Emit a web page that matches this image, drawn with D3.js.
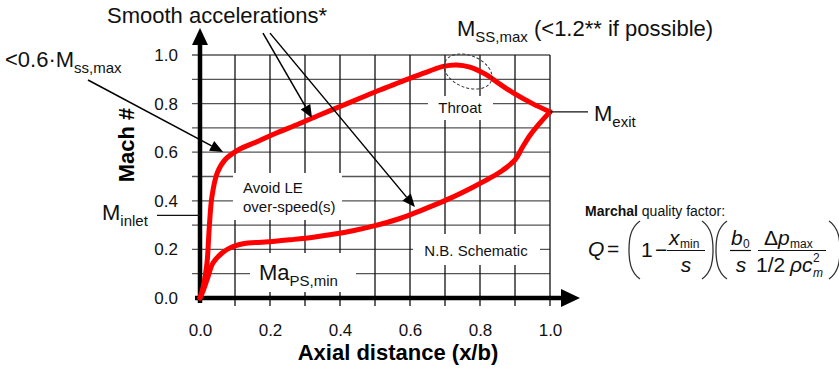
<!DOCTYPE html>
<html>
<head>
<meta charset="utf-8">
<script src="https://cdn.jsdelivr.net/npm/d3@7"></script>
<style>
  body { margin: 0; background: #fff; }
  svg { font-family: "Liberation Sans", Arial, sans-serif; }
</style>
</head>
<body>
<svg id="chart" width="839" height="369"></svg>
<script>
// suction side (upper branch), x/b and Mach
var ssX = [0, 0.009, 0.02, 0.026, 0.034, 0.049, 0.071, 0.109, 0.166, 0.22, 0.28, 0.34, 0.40, 0.46, 0.514, 0.571, 0.61, 0.657, 0.695, 0.733, 0.771, 0.819, 0.857, 0.895, 0.95, 1.0];
var ssY = [0, 0.045, 0.144, 0.28, 0.416, 0.514, 0.568, 0.609, 0.645, 0.68, 0.715, 0.752, 0.788, 0.824, 0.856, 0.888, 0.91, 0.935, 0.953, 0.959, 0.95, 0.918, 0.88, 0.844, 0.80, 0.766];
// pressure side (lower branch)
var psX = [0, 0.009, 0.02, 0.037, 0.063, 0.091, 0.137, 0.186, 0.26, 0.324, 0.38, 0.44, 0.50, 0.56, 0.61, 0.66, 0.714, 0.781, 0.829, 0.866, 0.9, 0.92, 0.943, 0.971, 1.0];
var psY = [0, 0.03, 0.074, 0.144, 0.185, 0.21, 0.226, 0.23, 0.24, 0.25, 0.262, 0.278, 0.298, 0.322, 0.348, 0.377, 0.41, 0.457, 0.494, 0.527, 0.568, 0.617, 0.67, 0.72, 0.766];

var xTicks = [0, 0.2, 0.4, 0.6, 0.8, 1.0];
var yTicks = [0, 0.2, 0.4, 0.6, 0.8, 1.0];
var gridValues = [0.1, 0.2, 0.3, 0.4, 0.5, 0.6, 0.7, 0.8, 0.9, 1.0];
var inletMach = 0.34;
var exitMach = 0.766;

var svg = d3.select('#chart');
var x = d3.scaleLinear().domain([0, 1]).range([200, 550]);
var y = d3.scaleLinear().domain([0, 1]).range([298, 55]);

// Gitter
var grid = svg.append('g');
grid.selectAll('.hl').data(gridValues).enter().append('line')
  .attr('x1', 192).attr('x2', x(1))
  .attr('y1', d => y(d)).attr('y2', d => y(d))
  .attr('stroke', '#555').attr('stroke-width', 1.3);
grid.selectAll('.vl').data(gridValues).enter().append('line')
  .attr('x1', d => x(d)).attr('x2', d => x(d))
  .attr('y1', y(0) + 8).attr('y2', y(1))
  .attr('stroke', '#111').attr('stroke-width', 1.3);

// weisse Kaesten hinter den Beschriftungen
var boxes = [
  [233, 173, 109, 47],
  [250, 253, 106, 39],
  [428, 96, 65, 24],
  [413, 234, 127, 31]
];
svg.selectAll('.box').data(boxes).enter().append('rect')
  .attr('x', d => d[0]).attr('y', d => d[1])
  .attr('width', d => d[2]).attr('height', d => d[3])
  .attr('fill', '#fff');

// Achsen
svg.append('line').attr('x1', x(0)).attr('x2', x(0)).attr('y1', y(0) + 5).attr('y2', 44)
  .attr('stroke', '#000').attr('stroke-width', 4.5);
svg.append('path').attr('d', 'M192,45 L208,45 L200,28 Z').attr('fill', '#000');
svg.append('line').attr('x1', x(0) - 5).attr('x2', 562).attr('y1', y(0)).attr('y2', y(0))
  .attr('stroke', '#000').attr('stroke-width', 4.5);
svg.append('path').attr('d', 'M561,289 L561,307 L580,298 Z').attr('fill', '#000');

var yAxis = svg.append('g').attr('transform', 'translate(' + x(0) + ',0)')
  .call(d3.axisLeft(y).tickValues(yTicks).tickSize(0).tickPadding(22).tickFormat(d3.format('.1f')));
var xAxis = svg.append('g').attr('transform', 'translate(0,' + y(0) + ')')
  .call(d3.axisBottom(x).tickValues(xTicks).tickSize(0).tickPadding(26).tickFormat(d3.format('.1f')));
[yAxis, xAxis].forEach(function(a) {
  a.select('.domain').remove();
  a.selectAll('text').attr('font-size', 17).attr('fill', '#111')
    .attr('font-family', '"Liberation Sans", Arial, sans-serif');
});

svg.append('text').attr('x', 398).attr('y', 360).attr('text-anchor', 'middle')
  .attr('font-size', 22).attr('font-weight', 'bold').text('Axial distance (x/b)');
svg.append('text').attr('transform', 'translate(134,145) rotate(-90)').attr('text-anchor', 'middle')
  .attr('font-size', 22).attr('font-weight', 'bold').text('Mach #');

// Kurven
var line = d3.line().x(d => x(d[0])).y(d => y(d[1])).curve(d3.curveCatmullRom.alpha(0.5));
[[ssX, ssY], [psX, psY]].forEach(function(s) {
  svg.append('path').datum(d3.zip(s[0], s[1])).attr('d', line)
    .attr('fill', 'none').attr('stroke', '#ff0000').attr('stroke-width', 5)
    .attr('stroke-linecap', 'round').attr('stroke-linejoin', 'round');
});

// Throat-Ellipse
svg.append('ellipse').attr('cx', x(0.766)).attr('cy', y(0.932)).attr('rx', 25).attr('ry', 16)
  .attr('transform', 'rotate(22,' + x(0.766) + ',' + y(0.932) + ')')
  .attr('fill', 'none').attr('stroke', '#333').attr('stroke-width', 1).attr('stroke-dasharray', '3,2');

// Einlass / Auslass
svg.append('line').attr('x1', 157).attr('x2', x(0)).attr('y1', y(inletMach)).attr('y2', y(inletMach))
  .attr('stroke', '#111').attr('stroke-width', 1.3);
svg.append('line').attr('x1', x(1)).attr('x2', 588).attr('y1', y(exitMach)).attr('y2', y(exitMach))
  .attr('stroke', '#111').attr('stroke-width', 1.3);

// Pfeile
function arrow(p0, p1) {
  var x1 = x(p0[0]), y1 = y(p0[1]), x2 = x(p1[0]), y2 = y(p1[1]);
  var ang = Math.atan2(y2 - y1, x2 - x1), L = 13, W = 5.5;
  var bx = x2 - L * Math.cos(ang), by = y2 - L * Math.sin(ang);
  svg.append('line').attr('x1', x1).attr('y1', y1).attr('x2', bx).attr('y2', by)
    .attr('stroke', '#000').attr('stroke-width', 1.5);
  svg.append('path').attr('fill', '#000').attr('d',
    'M' + x2 + ',' + y2 +
    'L' + (bx + W * Math.sin(ang)) + ',' + (by - W * Math.cos(ang)) +
    'L' + (bx - W * Math.sin(ang)) + ',' + (by + W * Math.cos(ang)) + 'Z');
}
arrow([-0.32, 0.897], [0.066, 0.601]);
arrow([0.18, 1.09], [0.32, 0.741]);
arrow([0.20, 1.09], [0.614, 0.374]);

// Beschriftungen
function label(px, py, parts, anchor) {
  var t = svg.append('text').attr('x', px).attr('y', py).attr('fill', '#111')
    .attr('text-anchor', anchor || 'start');
  var shift = 0;
  parts.forEach(function(p) {
    var sub = p[1] === 'sub';
    var ts = t.append('tspan').attr('font-size', sub ? 15 : 22).text(p[0]);
    var want = sub ? 6 : 0;
    ts.attr('dy', want - shift);
    shift = want;
  });
  return t;
}
label(107, 23, [['Smooth accelerations*']]);
label(5, 67, [['<0.6\u00b7M'], ['ss,max', 'sub']]);
label(457, 36, [['M'], ['SS,max', 'sub'], [' (<1.2** if possible)']]);
label(594, 121, [['M'], ['exit', 'sub']]);
label(102, 220, [['M'], ['inlet', 'sub']]);
label(259, 280, [['Ma'], ['PS,min', 'sub']]);

function small(px, py, txt, anchor) {
  svg.append('text').attr('x', px).attr('y', py).attr('font-size', 15).attr('fill', '#111')
    .attr('text-anchor', anchor || 'start').text(txt);
}
small(243, 193, 'Avoid LE');
small(243, 212, 'over-speed(s)');
small(460, 113, 'Throat', 'middle');
small(476, 256, 'N.B. Schematic', 'middle');

// Marchal-Formel
var mt = svg.append('text').attr('x', 585).attr('y', 216).attr('font-size', 14).attr('fill', '#111');
mt.append('tspan').attr('font-weight', 'bold').text('Marchal');
mt.append('tspan').text(' quality factor:');

var f = svg.append('g').attr('fill', '#111');
function ft(px, py, txt, size, italic, anchor) {
  f.append('text').attr('x', px).attr('y', py).attr('font-size', size)
    .attr('font-style', italic ? 'italic' : 'normal')
    .attr('text-anchor', anchor || 'start').text(txt);
}
function bar(x1, x2) {
  f.append('line').attr('x1', x1).attr('x2', x2).attr('y1', 250.5).attr('y2', 250.5)
    .attr('stroke', '#111').attr('stroke-width', 1.2);
}
function paren(px, dir) {
  var o = 10 * dir, i = 11 * dir;
  f.append('path').attr('fill', 'none').attr('stroke', '#333').attr('stroke-width', 1.3)
    .attr('d', 'M' + px + ',221 C' + (px - o) + ',228 ' + (px - i) + ',240 ' + (px - i) + ',250 C' +
      (px - i) + ',260 ' + (px - o) + ',272 ' + px + ',279');
}
ft(588, 256, 'Q', 21, true);
ft(607, 256, '=', 21, false);
paren(640, 1);
ft(641, 257, '1', 21, false);
ft(655, 257, '\u2212', 21, false);
ft(669, 245, 'x', 21, true);
ft(680, 248, 'min', 12, false);
bar(667, 705);
ft(686, 272, 's', 21, true, 'middle');
paren(702, -1);
paren(727, 1);
ft(731, 245, 'b', 21, true);
ft(743, 248, '0', 12, false);
bar(730, 751);
ft(741, 272, 's', 21, true, 'middle');
ft(764, 245, '\u0394', 21, false);
ft(778, 245, 'p', 21, true);
ft(790, 248, 'max', 12, false);
bar(758, 826);
ft(756, 272, '1/2', 21, false);
ft(790, 272, '\u03c1', 21, true);
ft(802, 272, 'c', 21, true);
ft(813, 262, '2', 12, false);
ft(813, 277, 'm', 12, true);
paren(829, -1);
</script>
</body>
</html>
